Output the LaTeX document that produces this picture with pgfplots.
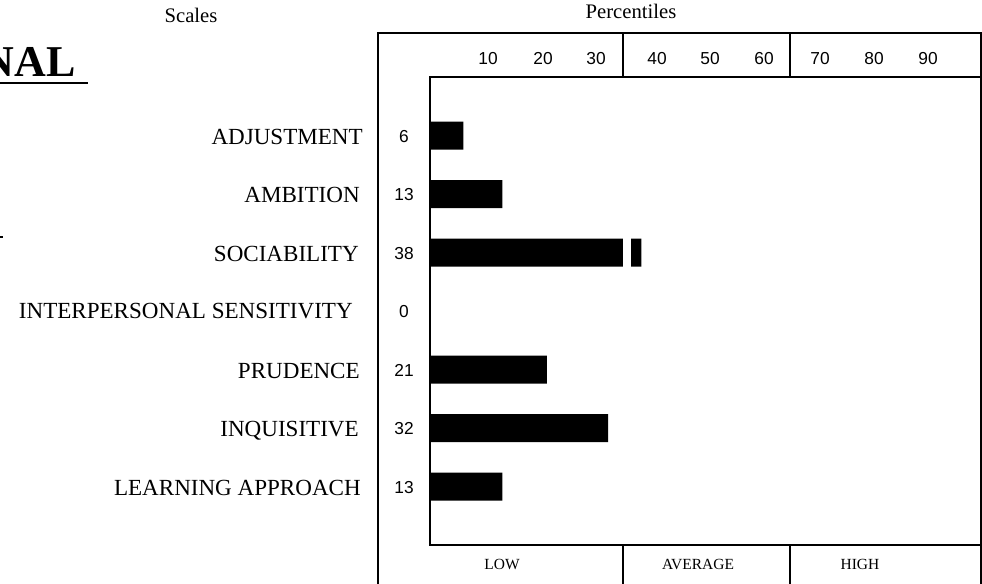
\documentclass[border=0pt]{standalone}
\usepackage{pgfplots}
\pgfplotsset{compat=1.18}
\usepackage{fontspec}
\setmainfont{Liberation Serif}
\newfontfamily\arial{Liberation Sans}
\begin{document}
\begin{tikzpicture}[x=0.75pt,y=0.75pt]
\useasboundingbox (0,0) rectangle (982,584);
\clip (0,0) rectangle (982,584);
% title fragment
\node[anchor=base east, inner sep=0pt, font=\fontsize{33}{36}\selectfont\bfseries] at (76,507) {NAL};
\draw[line width=1.9pt] (0,501) -- (88,501);
\draw[line width=1pt] (0,347) -- (3,347);
% headers
\node[anchor=base, inner sep=0pt, font=\fontsize{15.5}{18}\selectfont] at (191,561) {Scales};
\node[anchor=base, inner sep=0pt, font=\fontsize{15.5}{18}\selectfont] at (631,565) {Percentiles};
% outer frame
\draw[line width=1.6pt] (378,-10) -- (378,551) -- (981,551) -- (981,-10);
\draw[line width=1.6pt] (623,551) -- (623,507);
\draw[line width=1.6pt] (790,551) -- (790,507);
\draw[line width=1.6pt] (623,39) -- (623,-10);
\draw[line width=1.6pt] (790,39) -- (790,-10);
% percentile labels
\foreach \xx/\t in {488/10,543/20,596/30,657/40,710/50,764/60,820/70,874/80,928/90}
  \node[anchor=base, inner sep=0pt, font=\arial\fontsize{13}{15}\selectfont] at (\xx,519) {\t};
% category labels
\foreach \xx/\yy/\t in {363/439/ADJUSTMENT,360/381/AMBITION,359/322/SOCIABILITY,353/265/INTERPERSONAL SENSITIVITY,360/205/PRUDENCE,359/147/INQUISITIVE,361/88/LEARNING APPROACH}
  \node[anchor=base east, inner sep=0pt, font=\fontsize{17.3}{20}\selectfont] at (\xx,\yy) {\t};
% value labels
\foreach \yy/\t in {441/6,383/13,324/38,266/0,207/21,149/32,90/13}
  \node[anchor=base, inner sep=0pt, font=\arial\fontsize{13}{15}\selectfont] at (404,\yy) {\t};
% band labels
\node[anchor=base, inner sep=0pt, font=\fontsize{11.6}{13}\selectfont] at (502,14) {LOW};
\node[anchor=base, inner sep=0pt, font=\fontsize{11.6}{13}\selectfont] at (698,14) {AVERAGE};
\node[anchor=base, inner sep=0pt, font=\fontsize{11.6}{13}\selectfont] at (860,14) {HIGH};
\begin{axis}[
  at={(322.5pt,29.25pt)}, anchor=south west,
  scale only axis, width=413.25pt, height=351pt,
  xmin=0, xmax=99, ymin=-1, ymax=7, y dir=reverse,
  xtick=\empty, ytick=\empty,
  axis line style={line width=1.5pt},
  xbar, bar width=21pt, clip=false,
]
\addplot[fill=black, draw=none] coordinates {(6,0) (13,1) (38,2) (0,3) (21,4) (32,5) (13,6)};
\fill[white] (axis cs:34.75,1.7) rectangle (axis cs:36.1,2.3);
\end{axis}
\end{tikzpicture}
\end{document}
